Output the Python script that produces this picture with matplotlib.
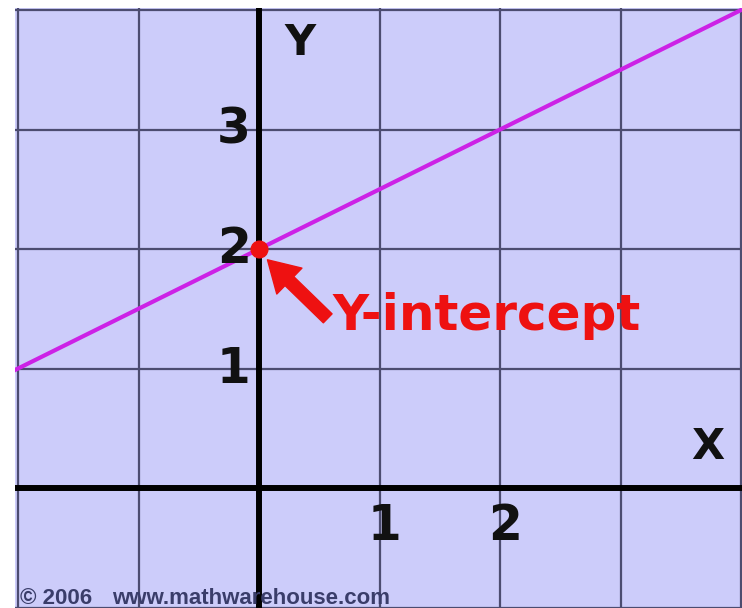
import matplotlib
matplotlib.use('Agg')
import matplotlib.pyplot as plt

# Line y = 0.5x + 2, endpoints
line_x = [-2.05, 4.05]
line_y = [0.975, 4.025]

# Y-intercept point
intercept_x = [0]
intercept_y = [2]

# grid positions and tick labels
grid_x = [-2, -1, 1, 2, 3, 4]
grid_y = [-1, 1, 2, 3, 4]
x_tick_vals = [1, 2]
y_tick_vals = [1, 2, 3]

W, H = 742, 608
fig = plt.figure(figsize=(W / 100, H / 100), dpi=100, facecolor='white')
ax = fig.add_axes([15 / W, 0, 727 / W, 600 / H])
ax.set_facecolor('#ccccfa')
ax.set_xlim(-2.025, 4.008)
ax.set_ylim(-1.004, 4.017)
for s in ax.spines.values():
    s.set_visible(False)
ax.set_xticks([])
ax.set_yticks([])

# grid
for gx in grid_x:
    ax.axvline(gx, color='#4c4c70', lw=1.6, zorder=1)
for gy in grid_y:
    ax.axhline(gy, color='#4c4c70', lw=1.6, zorder=1)

# axes
ax.axvline(0, color='black', lw=4.3, zorder=2)
ax.axhline(0, color='black', lw=4.3, zorder=2)

# the line
ax.plot(line_x, line_y, color='#cc22e6', lw=3, zorder=3, solid_capstyle='butt')
ax.plot(intercept_x, intercept_y, 'o', color='#ee1111', ms=12, zorder=4)

# tick labels
for v in y_tick_vals:
    ax.text(-0.07, v, str(v), ha='right', va='center', fontsize=35,
            fontweight='bold', color='#111111', zorder=5)
for v in x_tick_vals:
    ax.text(v + 0.04, -0.12, str(v), ha='center', va='top', fontsize=35,
            fontweight='bold', color='#111111', zorder=5)

ax.text(0.34, 3.72, 'Y', ha='center', va='center', fontsize=31,
        fontweight='bold', color='#111111')
ax.text(3.72, 0.34, 'X', ha='center', va='center', fontsize=31,
        fontweight='bold', color='#111111')

# annotation
ax.annotate('', xy=(0.07, 1.91), xytext=(0.57, 1.42),
            arrowprops=dict(arrowstyle='simple,head_length=1.1,head_width=1.3,tail_width=0.45',
                            color='#ee1111', mutation_scale=20, shrinkA=0, shrinkB=0),
            zorder=5)
ax.text(0.61, 1.44, 'Y-intercept', ha='left', va='center', fontsize=36,
        fontweight='bold', color='#ee1111', zorder=5)

fig.text(20 / W, 1 - 604 / H, '\u00a9 2006', ha='left', va='baseline',
         fontsize=16, fontweight='bold', family='Liberation Sans', color='#3a3d6a')
fig.text(112 / W, 1 - 604 / H, 'www.mathwarehouse.com', ha='left', va='baseline',
         fontsize=16, fontweight='bold', family='Liberation Sans', color='#3a3d6a')

fig.savefig('out.png', dpi=100)
